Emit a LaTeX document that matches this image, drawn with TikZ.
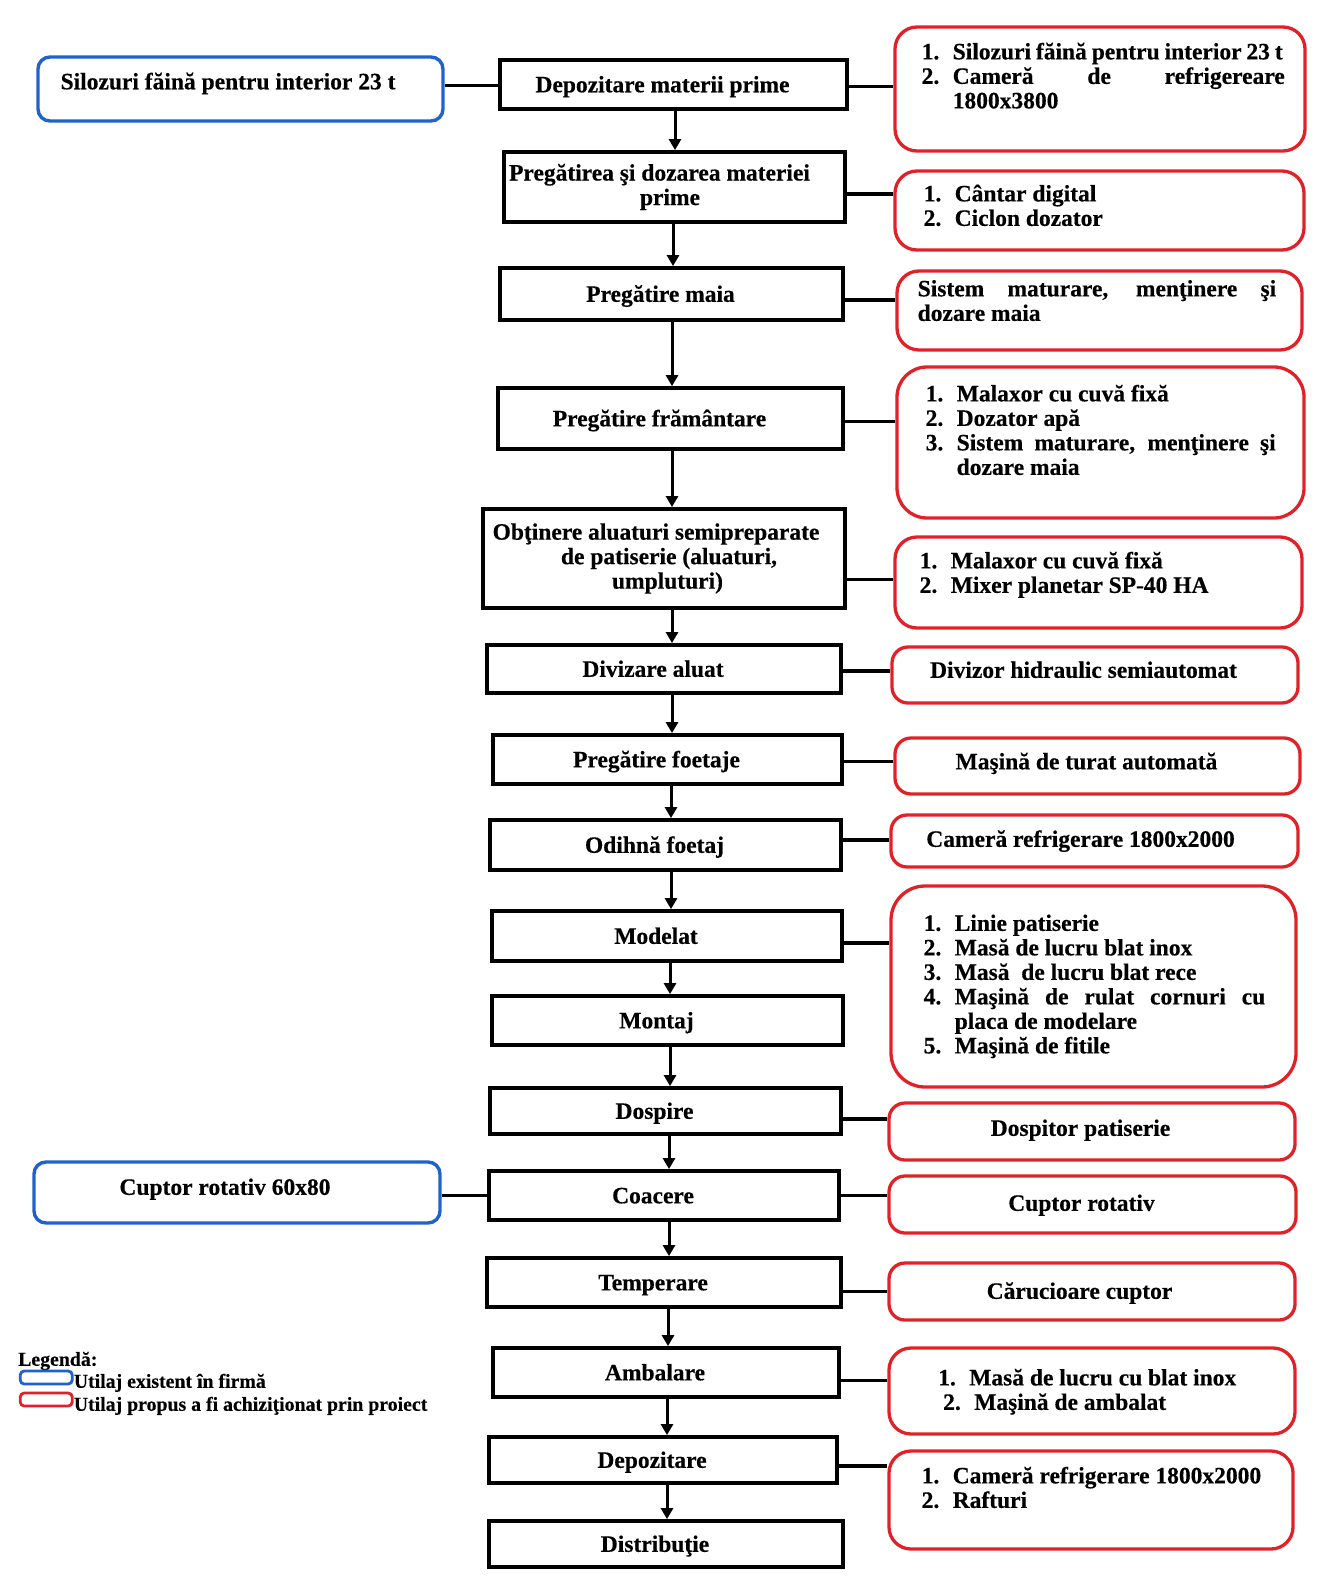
\documentclass[tikz,border=0pt]{standalone}
\usepackage{fontspec}
\setmainfont{Liberation Serif}[BoldFeatures={FakeBold=0.4}]
\usetikzlibrary{arrows.meta}

\definecolor{boxred}{RGB}{224,34,40}
\definecolor{boxblue}{RGB}{32,98,204}

\newcommand\boxfont{\bfseries\fontsize{23.5}{24.5}\selectfont}
\newcommand\lgfont{\bfseries\fontsize{19.8}{22}\selectfont}
% stage captions sit slightly left of the box centre
\newcommand\lft[2][22pt]{#2\hspace*{#1}}
% numbered line of an equipment list
\newcommand\nitem[2]{\strut\makebox[31pt][l]{#1}#2}
% line stretched to a given width
\newcommand\jline[2]{\makebox[#1][s]{#2}}

\tikzset{
  stage/.style={draw=black, line width=3.8pt, fill=white, font=\boxfont,
                align=center, inner sep=0pt},
  one/.style={text height=15.6pt, text depth=0pt},
  newbox/.style={draw=boxred, line width=3.3pt, rounded corners=22pt, inner sep=0pt},
  oldbox/.style={draw=boxblue, line width=3.4pt, rounded corners=12pt, inner sep=0pt},
  note/.style={font=\boxfont, inner sep=0pt, align=left, anchor=north west},
  cnote/.style={font=\boxfont, inner sep=0pt, text height=15.6pt, text depth=0pt},
  link/.style={line width=3.2pt, draw=black},
  flow/.style={line width=3pt, -{Triangle[width=12pt,length=11pt]}},
}

% vertical flow arrow below a stage, shifted sideways by #3
\newcommand\flowarrow[3]{\draw[flow] ([xshift=#3pt]#1.south) -- ([xshift=#3pt]#1.south |- #2.north);}
% horizontal link from a stage to an equipment box, shifted vertically by #3
\newcommand\linkto[3]{\draw[link] ([yshift=#3pt]#1.east) -- ([yshift=#3pt]#1.east -| #2.west);}

\begin{document}
\begin{tikzpicture}[x=1pt,y=-1pt]
\useasboundingbox (0,0) rectangle (1324,1578);

% ---------- process stages ----------
\node[stage, one, minimum width=347pt, minimum height=49pt] (s1) at (673.5,84.5) {\lft{Depozitare materii prime}};
\node[stage, minimum width=341pt, minimum height=70pt] (s2) at (674.5,187) {\lft[30pt]{Pregătirea şi dozarea materiei}\\\lft[9pt]{prime}};
\node[stage, one, minimum width=343pt, minimum height=52pt] (s3) at (671.5,294) {\lft{Pregătire maia}};
\node[stage, one, minimum width=345pt, minimum height=61pt] (s4) at (670.5,418.5) {\lft{Pregătire frământare}};
\node[stage, minimum width=362pt, minimum height=99pt] (s5) at (664,558.5) {\lft[16pt]{Obţinere aluaturi semipreparate}\\\hspace*{10pt}de patiserie (aluaturi,\\\hspace*{7pt}umpluturi)};
\node[stage, one, minimum width=354pt, minimum height=48pt] (s6) at (664,669) {\lft{Divizare aluat}};
\node[stage, one, minimum width=349pt, minimum height=49pt] (s7) at (667.5,759.5) {\lft{Pregătire foetaje}};
\node[stage, one, minimum width=351pt, minimum height=50pt] (s8) at (665.5,845) {\lft{Odihnă foetaj}};
\node[stage, one, minimum width=350pt, minimum height=50pt] (s9) at (667,936) {\lft{Modelat}};
\node[stage, one, minimum width=351pt, minimum height=49pt] (s10) at (667.5,1020.5) {\lft{Montaj}};
\node[stage, one, minimum width=351pt, minimum height=46pt] (s11) at (665.5,1111) {\lft{Dospire}};
\node[stage, one, minimum width=350pt, minimum height=49pt] (s12) at (664,1195.5) {\lft{Coacere}};
\node[stage, one, minimum width=354pt, minimum height=49pt] (s13) at (664,1282.5) {\lft{Temperare}};
\node[stage, one, minimum width=346pt, minimum height=49pt] (s14) at (666,1372.5) {\lft{Ambalare}};
\node[stage, one, minimum width=348pt, minimum height=46pt] (s15) at (663,1460) {\lft{Depozitare}};
\node[stage, one, minimum width=354pt, minimum height=46pt] (s16) at (666,1544) {\lft{Distribuţie}};

% ---------- flow arrows ----------
\flowarrow{s1}{s2}{1.5}
\flowarrow{s2}{s3}{-1.5}
\flowarrow{s3}{s4}{0.5}
\flowarrow{s4}{s5}{1.5}
\flowarrow{s5}{s6}{8}
\flowarrow{s6}{s7}{8}
\flowarrow{s7}{s8}{3.5}
\flowarrow{s8}{s9}{5.5}
\flowarrow{s9}{s10}{3}
\flowarrow{s10}{s11}{2.5}
\flowarrow{s11}{s12}{3.5}
\flowarrow{s12}{s13}{5}
\flowarrow{s13}{s14}{4}
\flowarrow{s14}{s15}{1}
\flowarrow{s15}{s16}{4}

% ---------- proposed equipment ----------
\node[newbox, minimum width=410pt, minimum height=124pt] (r1) at (1100,89) {};
\node[newbox, minimum width=409pt, minimum height=79pt] (r2) at (1099.5,210.5) {};
\node[newbox, minimum width=405pt, minimum height=79pt] (r3) at (1099.5,310.5) {};
\node[newbox, minimum width=407pt, minimum height=151pt, rounded corners=30pt] (r4) at (1100.5,442.5) {};
\node[newbox, minimum width=407pt, minimum height=91pt] (r5) at (1098.5,582.5) {};
\node[newbox, minimum width=406pt, minimum height=56pt, rounded corners=16pt] (r6) at (1095,675) {};
\node[newbox, minimum width=405pt, minimum height=56pt, rounded corners=16pt] (r7) at (1097.5,766) {};
\node[newbox, minimum width=407pt, minimum height=52pt, rounded corners=16pt] (r8) at (1094.5,841) {};
\node[newbox, minimum width=405pt, minimum height=201pt, rounded corners=34pt] (r9) at (1093.5,986.5) {};
\node[newbox, minimum width=406pt, minimum height=57pt, rounded corners=16pt] (r10) at (1092,1131.5) {};
\node[newbox, minimum width=407pt, minimum height=57pt, rounded corners=16pt] (r11) at (1092.5,1204.5) {};
\node[newbox, minimum width=406pt, minimum height=57pt, rounded corners=16pt] (r12) at (1092,1291.5) {};
\node[newbox, minimum width=406pt, minimum height=86pt] (r13) at (1092,1391) {};
\node[newbox, minimum width=404pt, minimum height=98pt] (r14) at (1091,1500) {};

\node[note] (t1) at (921.5,42) {\nitem{1.}{\jline{330pt}{Silozuri făină pentru interior 23 t}}\\
  \nitem{2.}{\jline{332pt}{Cameră de refrigereare}}\\
  \nitem{}{1800x3800}};
\node[note] (t2) at (923.5,184) {\nitem{1.}{Cântar digital}\\\nitem{2.}{Ciclon dozator}};
\node[note] (t3) at (917.5,279) {\strut\jline{358.5pt}{Sistem maturare, menţinere şi}\\\strut dozare maia};
\node[note] (t4) at (925.5,384) {\nitem{1.}{Malaxor cu cuvă fixă}\\
  \nitem{2.}{Dozator apă}\\
  \nitem{3.}{\jline{319pt}{Sistem maturare, menţinere şi}}\\
  \nitem{}{dozare maia}};
\node[note] (t5) at (919.5,551) {\nitem{1.}{Malaxor cu cuvă fixă}\\\nitem{2.}{Mixer planetar SP-40 HA}};
\node[cnote] (t6) at (1083.5,670) {Divizor hidraulic semiautomat};
\node[cnote] (t7) at (1086.5,761.5) {Maşină de turat automată};
\node[cnote] (t8) at (1080.5,839) {Cameră refrigerare 1800x2000};
\node[note] (t9) at (923.5,913.5) {\nitem{1.}{Linie patiserie}\\
  \nitem{2.}{Masă de lucru blat inox}\\
  \nitem{3.}{Masă \ de lucru blat rece}\\
  \nitem{4.}{\jline{310.5pt}{Maşină de rulat cornuri cu}}\\
  \nitem{}{placa de modelare}\\
  \nitem{5.}{Maşină de fitile}};
\node[cnote] (t10) at (1080.5,1128) {Dospitor patiserie};
\node[cnote] (t11) at (1081.5,1203) {Cuptor rotativ};
\node[cnote] (t12) at (1079.5,1291) {Cărucioare cuptor};
\node[note] (t13) at (938,1368) {\nitem{1.}{Masă de lucru cu blat inox}\\\hspace*{5pt}\nitem{2.}{Maşină de ambalat}};
\node[note] (t14) at (921.5,1466) {\nitem{1.}{Cameră refrigerare 1800x2000}\\\nitem{2.}{Rafturi}};

% ---------- existing equipment ----------
\node[oldbox, minimum width=405pt, minimum height=64pt] (b1) at (240.5,89) {};
\node[oldbox, minimum width=406pt, minimum height=61pt] (b2) at (237,1192.5) {};
\node[cnote, anchor=west] (u1) at (60.4,81.5) {Silozuri făină pentru interior 23 t};
\node[cnote] (u2) at (225,1187) {Cuptor rotativ 60x80};

% ---------- links between stages and equipment ----------
\draw[link] ([yshift=-1pt]b1.east |- s1.west) -- ([yshift=-1pt]s1.west);
\draw[link] (b2.east |- s12.west) -- (s12.west);
\linkto{s1}{r1}{-2}
\linkto{s2}{r2}{-7}
\linkto{s3}{r3}{-6}
\linkto{s4}{r4}{-3}
\linkto{s5}{r5}{-21}
\linkto{s6}{r6}{-2}
\linkto{s7}{r7}{-2}
\linkto{s8}{r8}{5}
\linkto{s9}{r9}{-7}
\linkto{s11}{r10}{-8}
\linkto{s12}{r11}{0}
\linkto{s13}{r12}{-9}
\linkto{s14}{r13}{-8}
\linkto{s15}{r14}{-6}

% ---------- legend ----------
\node[anchor=west, inner sep=0pt, font=\lgfont, text height=13.5pt, text depth=0pt] (lg) at (18,1359) {Legendă:};
\node[draw=boxblue, line width=2.8pt, rounded corners=4pt, minimum width=52pt, minimum height=13pt, inner sep=0pt] (lgb) at (46.25,1377.5) {};
\node[draw=boxred, line width=2.8pt, rounded corners=4pt, minimum width=52pt, minimum height=13pt, inner sep=0pt] (lgr) at (46.25,1399.5) {};
\node[anchor=west, inner sep=0pt, font=\lgfont, text height=13.5pt, text depth=0pt] (lgbt) at (lgb.east |- 0,1381) {Utilaj existent în firmă};
\node[anchor=west, inner sep=0pt, font=\lgfont, text height=13.5pt, text depth=0pt] (lgrt) at (lgr.east |- 0,1404) {Utilaj propus a fi achiziţionat prin proiect};
\end{tikzpicture}
\end{document}
